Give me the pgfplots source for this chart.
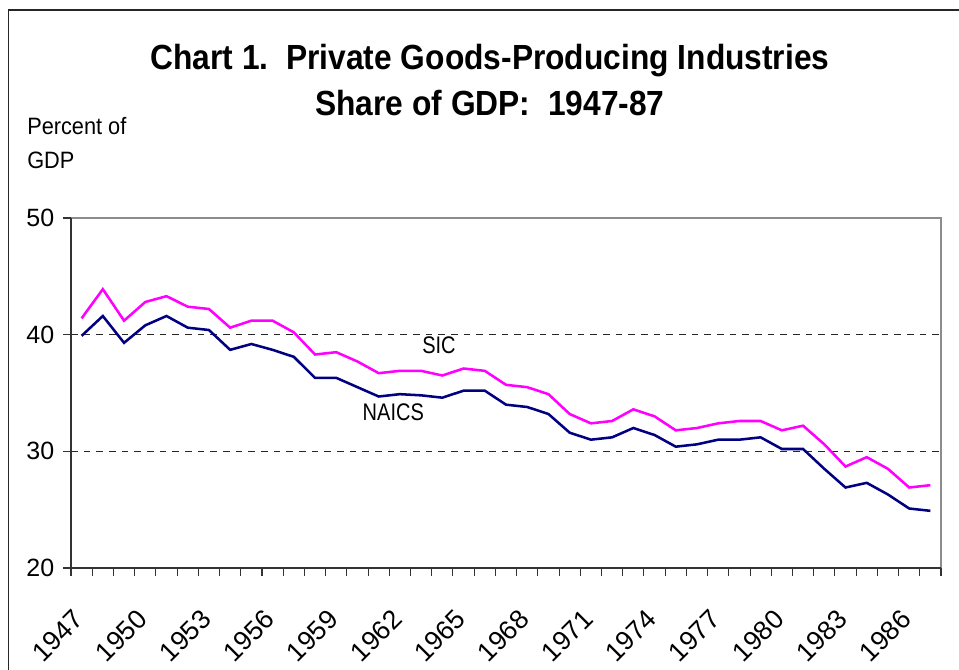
\documentclass[border=0pt]{standalone}
\usepackage{pgfplots}
\pgfplotsset{compat=1.18}
\usepackage{pgfplotstable}
\usepackage{fontspec}
\setmainfont{Liberation Sans}
\usepackage{graphicx}
\definecolor{sicmag}{RGB}{255,0,255}
\definecolor{naicsnavy}{RGB}{0,0,128}

\pgfplotstableread{
year sic naics
1947 41.4 39.9
1948 43.9 41.6
1949 41.2 39.3
1950 42.8 40.8
1951 43.3 41.6
1952 42.4 40.6
1953 42.2 40.4
1954 40.6 38.7
1955 41.2 39.2
1956 41.2 38.7
1957 40.2 38.1
1958 38.3 36.3
1959 38.5 36.3
1960 37.7 35.5
1961 36.7 34.7
1962 36.9 34.9
1963 36.9 34.8
1964 36.5 34.6
1965 37.1 35.2
1966 36.9 35.2
1967 35.7 34.0
1968 35.5 33.8
1969 34.9 33.2
1970 33.2 31.6
1971 32.4 31.0
1972 32.6 31.2
1973 33.6 32.0
1974 33.0 31.4
1975 31.8 30.4
1976 32.0 30.6
1977 32.4 31.0
1978 32.6 31.0
1979 32.6 31.2
1980 31.8 30.2
1981 32.2 30.2
1982 30.6 28.5
1983 28.7 26.9
1984 29.5 27.3
1985 28.5 26.3
1986 26.9 25.1
1987 27.1 24.9
}\datatable

\begin{document}
\begin{tikzpicture}[x=0.75pt,y=0.75pt]
\useasboundingbox (0,0) rectangle (959,669);
\draw[black!85, line width=1.2pt] (8.5,-10) -- (8.5,659) -- (980,659);
\begin{axis}[
  at={(53.25pt,75.75pt)}, anchor=south west,
  width=652.5pt, height=262.5pt, scale only axis,
  xmin=1946.5, xmax=1987.5, ymin=20, ymax=50,
  axis line style={draw=none},
  scaled x ticks=false,
  xtick pos=bottom, ytick pos=left,
  xtick={1947,1950,...,1986},
  xticklabels={1947,1950,1953,1956,1959,1962,1965,1968,1971,1974,1977,1980,1983,1986},
  minor xtick={1946.5,1947.5,...,1987.5},
  major x tick style={draw=none},
  minor x tick style={black!80, line width=0.8pt},
  ytick={20,30,40,50},
  major y tick style={black!80, line width=0.8pt},
  tick align=outside,
  major tick length=6pt, minor tick length=6pt,
  ymajorgrids,
  major grid style={black!85, line width=0.7pt, dash pattern=on 5pt off 4.5pt},
  /pgf/number format/assume math mode=true,
  yticklabel style={font=\fontsize{18.75pt}{20pt}\selectfont},
  xticklabel style={font=\fontsize{20pt}{22pt}\selectfont, xshift=-2pt, rotate=45, anchor=east, inner sep=0pt},
  xticklabel shift=29pt,
  yticklabel shift=3pt,
  clip=false,
]
\addplot[sicmag, line width=1.9pt] table[x=year,y=sic]{\datatable};
\addplot[naicsnavy, line width=1.9pt] table[x=year,y=naics]{\datatable};
\draw[black!45, line width=1.5pt] (rel axis cs:0,1) -- (rel axis cs:1,1) -- (rel axis cs:1,0);
\draw[black!80, line width=1.2pt] (rel axis cs:1,0) -- (rel axis cs:0,0) -- (rel axis cs:0,1);
\end{axis}
\node[anchor=base, inner sep=0] at (490,599.7) {\scalebox{1}[1.1]{\fontsize{23.8pt}{26pt}\selectfont\bfseries Chart 1.\ \ Private Goods-Producing Industries}};
\node[anchor=base, inner sep=0] at (490,553) {\scalebox{1}[1.1]{\fontsize{23.8pt}{26pt}\selectfont\bfseries Share of GDP:\ \ 1947-87}};
\node[anchor=base west, inner sep=0] at (27,534) {\scalebox{1}[1.09]{\fontsize{16.3pt}{18pt}\selectfont Percent of}};
\node[anchor=base west, inner sep=0] at (27,500.7) {\scalebox{1}[1.09]{\fontsize{16.3pt}{18pt}\selectfont GDP}};
\node[anchor=base, inner sep=0] at (439,315.7) {\scalebox{1}[1.2]{\fontsize{15pt}{16pt}\selectfont SIC}};
\node[anchor=base, inner sep=0] at (393.3,248.3) {\scalebox{1}[1.2]{\fontsize{15pt}{16pt}\selectfont NAICS}};
\end{tikzpicture}
\end{document}
